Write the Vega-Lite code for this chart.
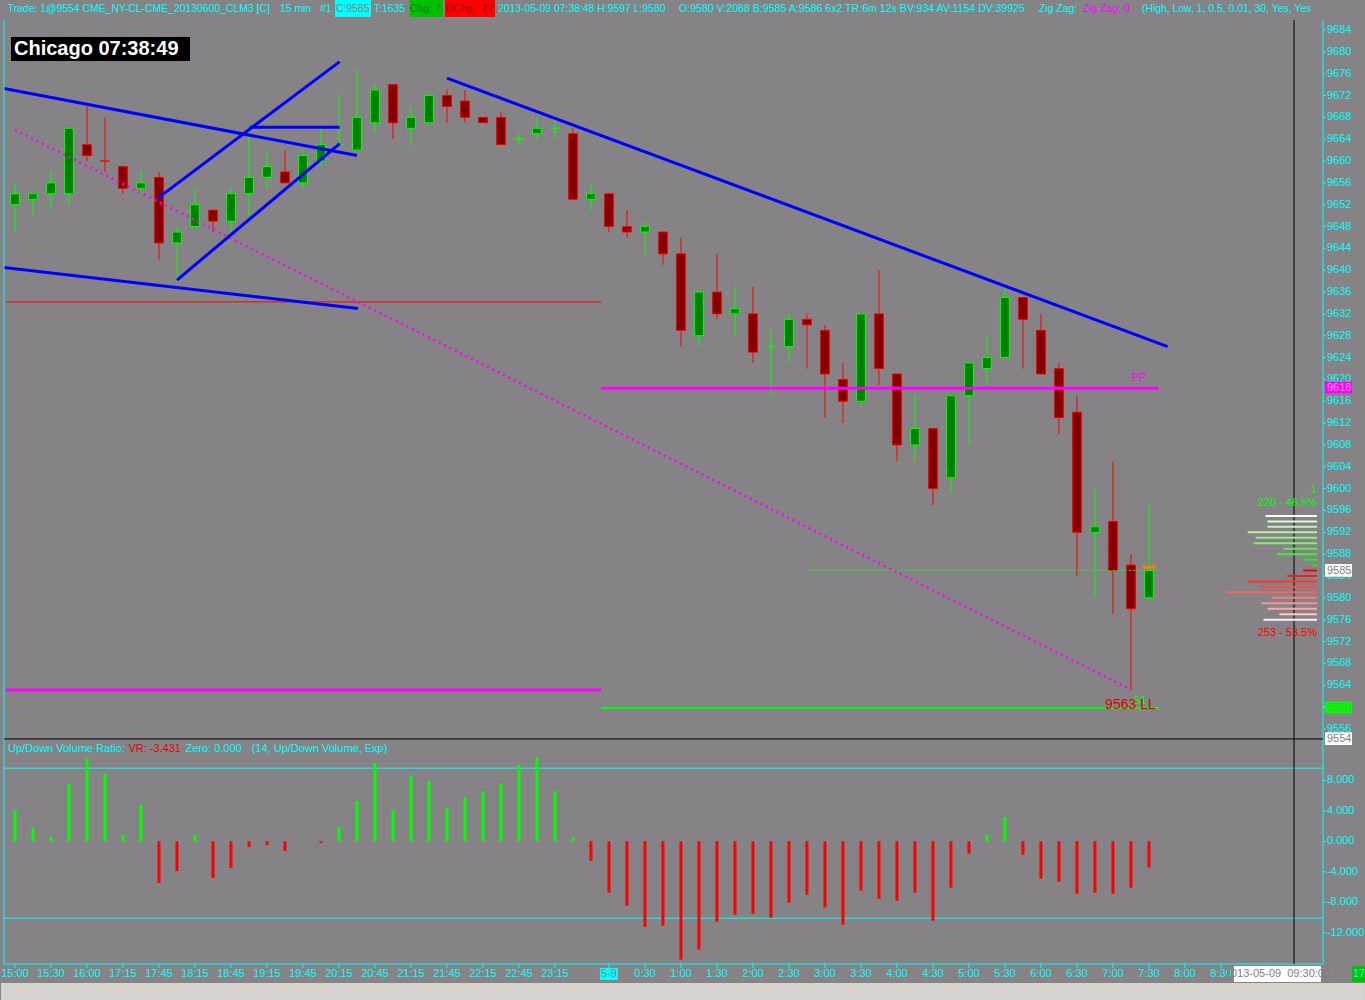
{
  "$schema": "https://vega.github.io/schema/vega-lite/v6.json",
  "background": "#858385",
  "padding": 0,
  "config": {
    "view": {"stroke": null},
    "scale": {"continuousPadding": 0},
    "font": "Liberation Sans",
    "text": {"font": "Liberation Sans", "fontSize": 11, "baseline": "middle"},
    "axis": {
      "labelFont": "Liberation Sans",
      "labelFontSize": 11,
      "labelColor": "#00ffff",
      "domainColor": "#00ffff",
      "tickColor": "#00ffff",
      "grid": false
    }
  },
  "datasets": {
    "candles": [
      {"i": 0, "o": 9652, "h": 9656, "l": 9647, "c": 9654, "dir": "up"},
      {"i": 1, "o": 9653, "h": 9654, "l": 9650, "c": 9654, "dir": "up"},
      {"i": 2, "o": 9654, "h": 9658, "l": 9651, "c": 9656, "dir": "up"},
      {"i": 3, "o": 9654, "h": 9666, "l": 9652, "c": 9666, "dir": "up"},
      {"i": 4, "o": 9663, "h": 9670, "l": 9660, "c": 9661, "dir": "down"},
      {"i": 5, "o": 9660, "h": 9668, "l": 9658, "c": 9660, "dir": "down"},
      {"i": 6, "o": 9659, "h": 9659, "l": 9654, "c": 9655, "dir": "down"},
      {"i": 7, "o": 9655, "h": 9658, "l": 9654, "c": 9656, "dir": "up"},
      {"i": 8, "o": 9657, "h": 9658, "l": 9642, "c": 9645, "dir": "down"},
      {"i": 9, "o": 9645, "h": 9648, "l": 9638, "c": 9647, "dir": "up"},
      {"i": 10, "o": 9648, "h": 9655, "l": 9648, "c": 9652, "dir": "up"},
      {"i": 11, "o": 9651, "h": 9651, "l": 9647, "c": 9649, "dir": "down"},
      {"i": 12, "o": 9649, "h": 9655, "l": 9647, "c": 9654, "dir": "up"},
      {"i": 13, "o": 9654, "h": 9665, "l": 9650, "c": 9657, "dir": "up"},
      {"i": 14, "o": 9657, "h": 9662, "l": 9655, "c": 9659, "dir": "up"},
      {"i": 15, "o": 9658, "h": 9662, "l": 9656, "c": 9656, "dir": "down"},
      {"i": 16, "o": 9656, "h": 9662, "l": 9655, "c": 9661, "dir": "up"},
      {"i": 17, "o": 9660, "h": 9666, "l": 9659, "c": 9663, "dir": "up"},
      {"i": 18, "o": 9663, "h": 9672, "l": 9663, "c": 9663, "dir": "up"},
      {"i": 19, "o": 9662, "h": 9677, "l": 9662, "c": 9668, "dir": "up"},
      {"i": 20, "o": 9667, "h": 9674, "l": 9665, "c": 9673, "dir": "up"},
      {"i": 21, "o": 9674, "h": 9674, "l": 9664, "c": 9667, "dir": "down"},
      {"i": 22, "o": 9666, "h": 9670, "l": 9663, "c": 9668, "dir": "up"},
      {"i": 23, "o": 9667, "h": 9672, "l": 9667, "c": 9672, "dir": "up"},
      {"i": 24, "o": 9672, "h": 9673, "l": 9667, "c": 9670, "dir": "down"},
      {"i": 25, "o": 9671, "h": 9673, "l": 9667, "c": 9668, "dir": "down"},
      {"i": 26, "o": 9668, "h": 9668, "l": 9667, "c": 9667, "dir": "down"},
      {"i": 27, "o": 9668, "h": 9669, "l": 9663, "c": 9663, "dir": "down"},
      {"i": 28, "o": 9664, "h": 9665, "l": 9663, "c": 9664, "dir": "up"},
      {"i": 29, "o": 9665, "h": 9668, "l": 9664, "c": 9666, "dir": "up"},
      {"i": 30, "o": 9666, "h": 9668, "l": 9664, "c": 9666, "dir": "up"},
      {"i": 31, "o": 9665, "h": 9666, "l": 9653, "c": 9653, "dir": "down"},
      {"i": 32, "o": 9653, "h": 9656, "l": 9651, "c": 9654, "dir": "up"},
      {"i": 33, "o": 9654, "h": 9654, "l": 9647, "c": 9648, "dir": "down"},
      {"i": 34, "o": 9648, "h": 9651, "l": 9646, "c": 9647, "dir": "down"},
      {"i": 35, "o": 9647, "h": 9649, "l": 9643, "c": 9648, "dir": "up"},
      {"i": 36, "o": 9647, "h": 9647, "l": 9641, "c": 9643, "dir": "down"},
      {"i": 37, "o": 9643, "h": 9646, "l": 9626, "c": 9629, "dir": "down"},
      {"i": 38, "o": 9628, "h": 9636, "l": 9626, "c": 9636, "dir": "up"},
      {"i": 39, "o": 9636, "h": 9643, "l": 9631, "c": 9632, "dir": "down"},
      {"i": 40, "o": 9632, "h": 9637, "l": 9628, "c": 9633, "dir": "up"},
      {"i": 41, "o": 9632, "h": 9637, "l": 9623, "c": 9625, "dir": "down"},
      {"i": 42, "o": 9626, "h": 9629, "l": 9617, "c": 9626, "dir": "up"},
      {"i": 43, "o": 9626, "h": 9632, "l": 9623, "c": 9631, "dir": "up"},
      {"i": 44, "o": 9631, "h": 9632, "l": 9622, "c": 9630, "dir": "down"},
      {"i": 45, "o": 9629, "h": 9630, "l": 9613, "c": 9621, "dir": "down"},
      {"i": 46, "o": 9620, "h": 9623, "l": 9612, "c": 9616, "dir": "down"},
      {"i": 47, "o": 9616, "h": 9632, "l": 9615, "c": 9632, "dir": "up"},
      {"i": 48, "o": 9632, "h": 9640, "l": 9619, "c": 9622, "dir": "down"},
      {"i": 49, "o": 9621, "h": 9621, "l": 9605, "c": 9608, "dir": "down"},
      {"i": 50, "o": 9608, "h": 9617, "l": 9605, "c": 9611, "dir": "up"},
      {"i": 51, "o": 9611, "h": 9611, "l": 9597, "c": 9600, "dir": "down"},
      {"i": 52, "o": 9602, "h": 9617, "l": 9599, "c": 9617, "dir": "up"},
      {"i": 53, "o": 9617, "h": 9623, "l": 9608, "c": 9623, "dir": "up"},
      {"i": 54, "o": 9622, "h": 9628, "l": 9619, "c": 9624, "dir": "up"},
      {"i": 55, "o": 9624, "h": 9637, "l": 9624, "c": 9635, "dir": "up"},
      {"i": 56, "o": 9635, "h": 9635, "l": 9622, "c": 9631, "dir": "down"},
      {"i": 57, "o": 9629, "h": 9632, "l": 9621, "c": 9621, "dir": "down"},
      {"i": 58, "o": 9622, "h": 9623, "l": 9610, "c": 9613, "dir": "down"},
      {"i": 59, "o": 9614, "h": 9617, "l": 9584, "c": 9592, "dir": "down"},
      {"i": 60, "o": 9592, "h": 9600, "l": 9580, "c": 9593, "dir": "up"},
      {"i": 61, "o": 9594, "h": 9605, "l": 9577, "c": 9585, "dir": "down"},
      {"i": 62, "o": 9586, "h": 9588, "l": 9563, "c": 9578, "dir": "down"},
      {"i": 63, "o": 9580, "h": 9597, "l": 9580, "c": 9585, "dir": "up"}
    ],
    "vratio": [
      {"i": 0, "vr": 4.1}, {"i": 1, "vr": 1.75}, {"i": 2, "vr": 0.57}, {"i": 3, "vr": 7.57},
      {"i": 4, "vr": 10.8}, {"i": 5, "vr": 8.88}, {"i": 6, "vr": 0.83}, {"i": 7, "vr": 4.77},
      {"i": 8, "vr": -5.47}, {"i": 9, "vr": -3.9}, {"i": 10, "vr": 0.83}, {"i": 11, "vr": -4.82},
      {"i": 12, "vr": -3.5}, {"i": 13, "vr": -0.75}, {"i": 14, "vr": -0.49}, {"i": 15, "vr": -1.27},
      {"i": 16, "vr": 0.0}, {"i": 17, "vr": -0.22}, {"i": 18, "vr": 1.88}, {"i": 19, "vr": 5.29},
      {"i": 20, "vr": 10.28}, {"i": 21, "vr": 4.11}, {"i": 22, "vr": 8.62}, {"i": 23, "vr": 7.92},
      {"i": 24, "vr": 4.37}, {"i": 25, "vr": 5.73}, {"i": 26, "vr": 6.52}, {"i": 27, "vr": 7.57},
      {"i": 28, "vr": 10.02}, {"i": 29, "vr": 10.98}, {"i": 30, "vr": 6.6}, {"i": 31, "vr": 0.48},
      {"i": 32, "vr": -2.54}, {"i": 33, "vr": -6.74}, {"i": 34, "vr": -8.45}, {"i": 35, "vr": -11.21},
      {"i": 36, "vr": -11.08}, {"i": 37, "vr": -15.54}, {"i": 38, "vr": -14.23}, {"i": 39, "vr": -10.55},
      {"i": 40, "vr": -9.63}, {"i": 41, "vr": -9.5}, {"i": 42, "vr": -10.03}, {"i": 43, "vr": -8.06},
      {"i": 44, "vr": -7.01}, {"i": 45, "vr": -8.71}, {"i": 46, "vr": -10.94}, {"i": 47, "vr": -6.48},
      {"i": 48, "vr": -7.53}, {"i": 49, "vr": -7.79}, {"i": 50, "vr": -6.74}, {"i": 51, "vr": -10.42},
      {"i": 52, "vr": -6.09}, {"i": 53, "vr": -1.62}, {"i": 54, "vr": 0.83}, {"i": 55, "vr": 3.19},
      {"i": 56, "vr": -1.75}, {"i": 57, "vr": -4.91}, {"i": 58, "vr": -5.3}, {"i": 59, "vr": -6.88},
      {"i": 60, "vr": -6.74}, {"i": 61, "vr": -6.88}, {"i": 62, "vr": -6.09}, {"i": 63, "vr": -3.431}
    ],
    "profile": [
      {"level": 9595, "vol": 26}, {"level": 9594, "vol": 25}, {"level": 9593, "vol": 25},
      {"level": 9592, "vol": 35}, {"level": 9591, "vol": 31}, {"level": 9590, "vol": 32},
      {"level": 9589, "vol": 17}, {"level": 9588, "vol": 20}, {"level": 9587, "vol": 7},
      {"level": 9586, "vol": 2}, {"level": 9585, "vol": 7}, {"level": 9584, "vol": 15},
      {"level": 9583, "vol": 35}, {"level": 9582, "vol": 28}, {"level": 9581, "vol": 46},
      {"level": 9580, "vol": 23}, {"level": 9579, "vol": 28}, {"level": 9578, "vol": 25},
      {"level": 9577, "vol": 19}, {"level": 9576, "vol": 27}
    ],
    "trend": [
      {"i1": -0.61, "p1": 9673.3, "i2": 19.0, "p2": 9661.0},
      {"i1": -0.61, "p1": 9640.5, "i2": 19.06, "p2": 9633.0},
      {"i1": 7.94, "p1": 9653.2, "i2": 18.04, "p2": 9678.2},
      {"i1": 9.0, "p1": 9638.2, "i2": 18.04, "p2": 9663.2},
      {"i1": 13.04, "p1": 9666.2, "i2": 18.04, "p2": 9666.2},
      {"i1": 24.0, "p1": 9675.2, "i2": 64.04, "p2": 9626.0}
    ],
    "zigzag": [
      {"i1": 0, "p1": 9665.7, "i2": 62, "p2": 9563.2}
    ],
    "pticks": [
      {"v": 9556}, {"v": 9560}, {"v": 9564}, {"v": 9568}, {"v": 9572}, {"v": 9576}, {"v": 9580},
      {"v": 9584}, {"v": 9588}, {"v": 9592}, {"v": 9596}, {"v": 9600}, {"v": 9604}, {"v": 9608},
      {"v": 9612}, {"v": 9616}, {"v": 9620}, {"v": 9624}, {"v": 9628}, {"v": 9632}, {"v": 9636},
      {"v": 9640}, {"v": 9644}, {"v": 9648}, {"v": 9652}, {"v": 9656}, {"v": 9660}, {"v": 9664},
      {"v": 9668}, {"v": 9672}, {"v": 9676}, {"v": 9680}, {"v": 9684}
    ],
    "vticks": [
      {"v": 8, "lab": "8.000"}, {"v": 4, "lab": "4.000"}, {"v": 0, "lab": "0.000"},
      {"v": -4, "lab": "-4.000"}, {"v": -8, "lab": "-8.000"}, {"v": -12, "lab": "-12.000"}
    ],
    "xticks": [
      {"i": 0, "lab": "15:00"}, {"i": 2, "lab": "15:30"}, {"i": 4, "lab": "16:00"}, {"i": 6, "lab": "17:15"},
      {"i": 8, "lab": "17:45"}, {"i": 10, "lab": "18:15"}, {"i": 12, "lab": "18:45"}, {"i": 14, "lab": "19:15"},
      {"i": 16, "lab": "19:45"}, {"i": 18, "lab": "20:15"}, {"i": 20, "lab": "20:45"}, {"i": 22, "lab": "21:15"},
      {"i": 24, "lab": "21:45"}, {"i": 26, "lab": "22:15"}, {"i": 28, "lab": "22:45"}, {"i": 30, "lab": "23:15"},
      {"i": 33, "lab": "5-9"}, {"i": 35, "lab": "0:30"}, {"i": 37, "lab": "1:00"}, {"i": 39, "lab": "1:30"},
      {"i": 41, "lab": "2:00"}, {"i": 43, "lab": "2:30"}, {"i": 45, "lab": "3:00"}, {"i": 47, "lab": "3:30"},
      {"i": 49, "lab": "4:00"}, {"i": 51, "lab": "4:30"}, {"i": 53, "lab": "5:00"}, {"i": 55, "lab": "5:30"},
      {"i": 57, "lab": "6:00"}, {"i": 59, "lab": "6:30"}, {"i": 61, "lab": "7:00"}, {"i": 63, "lab": "7:30"},
      {"i": 65, "lab": "8:00"}, {"i": 67, "lab": "8:30"}
    ],
    "one": [{}]
  },
  "spacing": 0,
  "bounds": "flush",
  "vconcat": [
    {
      "width": 1319,
      "height": 720,
      "resolve": {"scale": {"x": "independent"}},
      "layer": [
        {
          "layer": [
            {
              "data": {"name": "candles"},
              "mark": {"type": "rule", "strokeWidth": 1},
              "encoding": {
                "x": {"field": "i", "type": "quantitative", "scale": {"domain": [-0.61, 72.67], "nice": false, "zero": false, "padding": 0}, "axis": null},
                "y": {
                  "field": "l", "type": "quantitative",
                  "scale": {"domain": [9553.96, 9685.83], "nice": false, "zero": false, "padding": 0},
                  "axis": {"orient": "right", "title": null, "labels": false, "tickSize": 3, "values": [9556, 9560, 9564, 9568, 9572, 9576, 9580, 9584, 9588, 9592, 9596, 9600, 9604, 9608, 9612, 9616, 9620, 9624, 9628, 9632, 9636, 9640, 9644, 9648, 9652, 9656, 9660, 9664, 9668, 9672, 9676, 9680, 9684]}
                },
                "y2": {"field": "h"},
                "stroke": {"field": "dir", "type": "nominal", "scale": {"domain": ["up", "down"], "range": ["#00ff00", "#ff0000"]}, "legend": null}
              }
            },
            {
              "data": {"name": "candles"},
              "mark": {"type": "bar", "size": 9, "strokeWidth": 1},
              "encoding": {
                "x": {"field": "i", "type": "quantitative", "axis": null},
                "y": {"field": "o", "type": "quantitative", "axis": null},
                "y2": {"field": "c"},
                "fill": {"field": "dir", "type": "nominal", "scale": {"domain": ["up", "down"], "range": ["#008000", "#800000"]}, "legend": null},
                "stroke": {"field": "dir", "type": "nominal", "legend": null}
              }
            },
            {
              "data": {"name": "one"},
              "mark": {"type": "rule", "color": "#ff0000", "strokeWidth": 1},
              "encoding": {"x": {"datum": -0.5, "axis": null}, "x2": {"datum": 32.56}, "y": {"datum": 9634.2, "axis": null}}
            },
            {
              "data": {"name": "one"},
              "mark": {"type": "rule", "color": "#ff00ff", "strokeWidth": 3},
              "encoding": {"x": {"datum": -0.5, "axis": null}, "x2": {"datum": 32.56}, "y": {"datum": 9563.1, "axis": null}}
            },
            {
              "data": {"name": "one"},
              "mark": {"type": "rule", "color": "#ff00ff", "strokeWidth": 3},
              "encoding": {"x": {"datum": 32.56, "axis": null}, "x2": {"datum": 63.54}, "y": {"datum": 9618.4, "axis": null}}
            },
            {
              "data": {"name": "one"},
              "mark": {"type": "rule", "color": "#00ff00", "strokeWidth": 2},
              "encoding": {"x": {"datum": 32.56, "axis": null}, "x2": {"datum": 63.54}, "y": {"datum": 9559.8, "axis": null}}
            },
            {
              "data": {"name": "one"},
              "mark": {"type": "rule", "color": "#00ff00", "strokeWidth": 1, "strokeDash": [2, 2]},
              "encoding": {"x": {"datum": 44.1, "axis": null}, "x2": {"datum": 63.6}, "y": {"datum": 9585.0, "axis": null}}
            },
            {
              "data": {"name": "zigzag"},
              "mark": {"type": "rule", "color": "#ff00ff", "strokeWidth": 2.5, "strokeDash": [2, 4]},
              "encoding": {
                "x": {"field": "i1", "type": "quantitative", "axis": null}, "x2": {"field": "i2"},
                "y": {"field": "p1", "type": "quantitative", "axis": null}, "y2": {"field": "p2"}
              }
            },
            {
              "data": {"name": "trend"},
              "mark": {"type": "rule", "color": "#0000ff", "strokeWidth": 3},
              "encoding": {
                "x": {"field": "i1", "type": "quantitative", "axis": null}, "x2": {"field": "i2"},
                "y": {"field": "p1", "type": "quantitative", "axis": null}, "y2": {"field": "p2"}
              }
            },
            {
              "data": {"name": "one"},
              "mark": {"type": "rule", "color": "#ff8000", "strokeWidth": 3},
              "encoding": {"x": {"datum": 62.67, "axis": null}, "x2": {"datum": 63.39}, "y": {"datum": 9585.6, "axis": null}}
            },
            {
              "data": {"name": "one"},
              "mark": {"type": "text", "color": "#ff00ff", "align": "center"},
              "encoding": {"x": {"datum": 62.44, "axis": null}, "y": {"datum": 9620.3, "axis": null}, "text": {"value": "PP"}}
            },
            {
              "data": {"name": "one"},
              "mark": {"type": "text", "color": "#00ff00", "align": "center"},
              "encoding": {"x": {"datum": 62.5, "axis": null}, "y": {"datum": 9561.1, "axis": null}, "text": {"value": "S1"}}
            },
            {
              "data": {"name": "one"},
              "mark": {"type": "text", "color": "#e00000", "align": "center", "fontSize": 14},
              "encoding": {"x": {"datum": 61.97, "axis": null}, "y": {"datum": 9560.4, "axis": null}, "text": {"value": "9563 LL"}}
            },
            {
              "data": {"name": "one"},
              "mark": {"type": "rule", "color": "#00ffff", "strokeWidth": 1},
              "encoding": {"x": {"datum": -0.61, "axis": null}}
            },
            {
              "data": {"name": "one"},
              "mark": {"type": "rule", "color": "#00ffff", "strokeWidth": 1},
              "encoding": {"x": {"datum": 72.67, "axis": null}}
            },
            {
              "data": {"name": "pticks"},
              "mark": {"type": "rule", "color": "#00ffff", "strokeWidth": 1},
              "encoding": {"x": {"datum": 72.67, "axis": null}, "x2": {"datum": 72.84}, "y": {"field": "v", "type": "quantitative", "axis": null}}
            },
            {
              "data": {"name": "pticks"},
              "mark": {"type": "text", "color": "#00ffff", "align": "left"},
              "encoding": {"x": {"datum": 72.89, "axis": null}, "y": {"field": "v", "type": "quantitative", "axis": null}, "text": {"field": "v", "type": "quantitative", "format": "d"}}
            },
            {
              "data": {"name": "one"},
              "mark": {"type": "rule", "color": "#000000", "strokeWidth": 1},
              "encoding": {"x": {"datum": 71.06, "axis": null}}
            },
            {
              "data": {"name": "one"},
              "mark": {"type": "rule", "color": "#000000", "strokeWidth": 1},
              "encoding": {"y": {"datum": 9554.15, "axis": null}}
            },
            {
              "data": {"name": "one"},
              "mark": {"type": "rect", "color": "#000000"},
              "encoding": {"x": {"datum": -0.22, "axis": null}, "x2": {"datum": 9.72}, "y": {"datum": 9682.72, "axis": null}, "y2": {"datum": 9678.32}}
            },
            {
              "data": {"name": "one"},
              "mark": {"type": "text", "color": "#ffffff", "align": "left", "fontSize": 20, "fontWeight": "bold", "font": "Liberation Sans"},
              "encoding": {"x": {"datum": -0.055, "axis": null}, "y": {"datum": 9680.52, "axis": null}, "text": {"value": "Chicago 07:38:49"}}
            },
            {
              "data": {"name": "one"},
              "mark": {"type": "rect", "color": "#ff00ff"},
              "encoding": {"x": {"datum": 72.78, "axis": null}, "x2": {"datum": 74.28}, "y": {"datum": 9619.58, "axis": null}, "y2": {"datum": 9617.46}}
            },
            {
              "data": {"name": "one"},
              "mark": {"type": "text", "color": "#ff99ff", "align": "left"},
              "encoding": {"x": {"datum": 72.89, "axis": null}, "y": {"datum": 9618.5, "axis": null}, "text": {"value": "9618"}}
            },
            {
              "data": {"name": "one"},
              "mark": {"type": "rect", "color": "#ffffff"},
              "encoding": {"x": {"datum": 72.78, "axis": null}, "x2": {"datum": 74.28}, "y": {"datum": 9586.2, "axis": null}, "y2": {"datum": 9583.87}}
            },
            {
              "data": {"name": "one"},
              "mark": {"type": "text", "color": "#808080", "align": "left"},
              "encoding": {"x": {"datum": 72.89, "axis": null}, "y": {"datum": 9585.0, "axis": null}, "text": {"value": "9585"}}
            },
            {
              "data": {"name": "one"},
              "mark": {"type": "rect", "color": "#00ff00"},
              "encoding": {"x": {"datum": 72.78, "axis": null}, "x2": {"datum": 74.28}, "y": {"datum": 9560.98, "axis": null}, "y2": {"datum": 9558.85}}
            },
            {
              "data": {"name": "one"},
              "mark": {"type": "text", "color": "#40c040", "align": "left"},
              "encoding": {"x": {"datum": 72.89, "axis": null}, "y": {"datum": 9559.9, "axis": null}, "text": {"value": "9560"}}
            },
            {
              "data": {"name": "one"},
              "mark": {"type": "rect", "color": "#ffffff"},
              "encoding": {"x": {"datum": 72.78, "axis": null}, "x2": {"datum": 74.28}, "y": {"datum": 9555.37, "axis": null}, "y2": {"datum": 9553.04}}
            },
            {
              "data": {"name": "one"},
              "mark": {"type": "text", "color": "#808080", "align": "left"},
              "encoding": {"x": {"datum": 72.89, "axis": null}, "y": {"datum": 9554.2, "axis": null}, "text": {"value": "9554"}}
            },
            {
              "data": {"name": "one"},
              "mark": {"type": "rect", "color": "#00ffff"},
              "encoding": {"x": {"datum": 17.78, "axis": null}, "x2": {"datum": 19.78}, "y": {"datum": 9689.49, "axis": null}, "y2": {"datum": 9686.38}}
            },
            {
              "data": {"name": "one"},
              "mark": {"type": "rect", "color": "#00c000"},
              "encoding": {"x": {"datum": 21.92, "axis": null}, "x2": {"datum": 23.78}, "y": {"datum": 9689.49, "axis": null}, "y2": {"datum": 9686.38}}
            },
            {
              "data": {"name": "one"},
              "mark": {"type": "rect", "color": "#ff0000"},
              "encoding": {"x": {"datum": 23.89, "axis": null}, "x2": {"datum": 26.67}, "y": {"datum": 9689.49, "axis": null}, "y2": {"datum": 9686.38}}
            },
            {
              "data": {"name": "one"},
              "mark": {"type": "text", "color": "#00ffff", "align": "left", "fontSize": 10.4},
              "encoding": {"x": {"datum": -0.406, "axis": null}, "y": {"datum": 9687.84, "axis": null}, "text": {"value": "Trade: 1@9554 CME_NY-CL-CME_20130600_CLM3 [C]"}}
            },
            {
              "data": {"name": "one"},
              "mark": {"type": "text", "color": "#00ffff", "align": "left", "fontSize": 10.4},
              "encoding": {"x": {"datum": 14.72, "axis": null}, "y": {"datum": 9687.84, "axis": null}, "text": {"value": "15 min"}}
            },
            {
              "data": {"name": "one"},
              "mark": {"type": "text", "color": "#00ffff", "align": "left", "fontSize": 10.4},
              "encoding": {"x": {"datum": 16.94, "axis": null}, "y": {"datum": 9687.84, "axis": null}, "text": {"value": "#1"}}
            },
            {
              "data": {"name": "one"},
              "mark": {"type": "text", "color": "#808080", "align": "left", "fontSize": 10.4},
              "encoding": {"x": {"datum": 17.83, "axis": null}, "y": {"datum": 9687.84, "axis": null}, "text": {"value": "C:9585"}}
            },
            {
              "data": {"name": "one"},
              "mark": {"type": "text", "color": "#00ffff", "align": "left", "fontSize": 10.4},
              "encoding": {"x": {"datum": 19.94, "axis": null}, "y": {"datum": 9687.84, "axis": null}, "text": {"value": "T:1635"}}
            },
            {
              "data": {"name": "one"},
              "mark": {"type": "text", "color": "#008000", "align": "left", "fontSize": 10.4},
              "encoding": {"x": {"datum": 21.94, "axis": null}, "y": {"datum": 9687.84, "axis": null}, "text": {"value": "Chg: 7"}}
            },
            {
              "data": {"name": "one"},
              "mark": {"type": "text", "color": "#a00000", "align": "left", "fontSize": 10.4},
              "encoding": {"x": {"datum": 23.94, "axis": null}, "y": {"datum": 9687.84, "axis": null}, "text": {"value": "DChg: -77"}}
            },
            {
              "data": {"name": "one"},
              "mark": {"type": "text", "color": "#00ffff", "align": "left", "fontSize": 10.4},
              "encoding": {"x": {"datum": 26.83, "axis": null}, "y": {"datum": 9687.84, "axis": null}, "text": {"value": "2013-05-09 07:38:48 H:9597 L:9580"}}
            },
            {
              "data": {"name": "one"},
              "mark": {"type": "text", "color": "#00ffff", "align": "left", "fontSize": 10.6},
              "encoding": {"x": {"datum": 36.89, "axis": null}, "y": {"datum": 9687.84, "axis": null}, "text": {"value": "O:9580 V:2088 B:9585 A:9586 6x2 TR:6m 12s BV:934 AV:1154 DV:39925"}}
            },
            {
              "data": {"name": "one"},
              "mark": {"type": "text", "color": "#00ffff", "align": "left", "fontSize": 10.4},
              "encoding": {"x": {"datum": 56.89, "axis": null}, "y": {"datum": 9687.84, "axis": null}, "text": {"value": "Zig Zag:"}}
            },
            {
              "data": {"name": "one"},
              "mark": {"type": "text", "color": "#ff00ff", "align": "left", "fontSize": 10.4},
              "encoding": {"x": {"datum": 59.33, "axis": null}, "y": {"datum": 9687.84, "axis": null}, "text": {"value": "Zig Zag: 0"}}
            },
            {
              "data": {"name": "one"},
              "mark": {"type": "text", "color": "#00ffff", "align": "left", "fontSize": 10.4},
              "encoding": {"x": {"datum": 62.61, "axis": null}, "y": {"datum": 9687.84, "axis": null}, "text": {"value": "(High, Low, 1, 0.5, 0.01, 30, Yes, Yes"}}
            }
          ]
        },
        {
          "layer": [
            {
              "data": {"name": "profile"},
              "mark": {"type": "bar", "size": 2},
              "encoding": {
                "x": {"field": "vol", "type": "quantitative", "scale": {"domain": [-3.03, 663.2], "reverse": true, "nice": false, "zero": false, "padding": 0}, "axis": null},
                "x2": {"datum": 0},
                "y": {"field": "level", "type": "quantitative", "axis": null},
                "color": {
                  "field": "level", "type": "ordinal", "legend": null,
                  "scale": {
                    "domain": [9595, 9594, 9593, 9592, 9591, 9590, 9589, 9588, 9587, 9586, 9585, 9584, 9583, 9582, 9581, 9580, 9579, 9578, 9577, 9576],
                    "range": ["#f0fff0", "#e0f8d8", "#c8f0c0", "#b0f0a0", "#98ee88", "#88ec78", "#60e850", "#50e840", "#20f020", "#00ff00", "#ff0000", "#ff1818", "#ff3030", "#ff4848", "#ff6060", "#ff7878", "#ff9090", "#ffa8a8", "#ffc8c8", "#fff0f0"]
                  }
                }
              }
            },
            {
              "data": {"name": "one"},
              "mark": {"type": "text", "color": "#00ff00", "align": "right"},
              "encoding": {"x": {"datum": 0, "axis": null}, "y": {"datum": 9599.8, "axis": null}, "text": {"value": "1"}}
            },
            {
              "data": {"name": "one"},
              "mark": {"type": "text", "color": "#00ff00", "align": "right"},
              "encoding": {"x": {"datum": 0, "axis": null}, "y": {"datum": 9597.4, "axis": null}, "text": {"value": "220 - 46.5%"}}
            },
            {
              "data": {"name": "one"},
              "mark": {"type": "text", "color": "#ff0000", "align": "right"},
              "encoding": {"x": {"datum": 0, "axis": null}, "y": {"datum": 9573.6, "axis": null}, "text": {"value": "253 - 53.5%"}}
            }
          ]
        }
      ]
    },
    {
      "width": 1319,
      "height": 224,
      "layer": [
        {
          "data": {"name": "one"},
          "mark": {"type": "rule", "color": "#00ffff", "strokeWidth": 1},
          "encoding": {"y": {"datum": 9.6, "axis": null}}
        },
        {
          "data": {"name": "one"},
          "mark": {"type": "rule", "color": "#00ffff", "strokeWidth": 1},
          "encoding": {"y": {"datum": -10.1, "axis": null}}
        },
        {
          "data": {"name": "vratio"},
          "mark": {"type": "bar", "size": 3},
          "encoding": {
            "x": {
              "field": "i", "type": "quantitative",
              "scale": {"domain": [-0.61, 72.67], "nice": false, "zero": false, "padding": 0},
              "axis": {"orient": "bottom", "title": null, "labels": false, "tickSize": 4, "values": [0, 2, 4, 6, 8, 10, 12, 14, 16, 18, 20, 22, 24, 26, 28, 30, 33, 35, 37, 39, 41, 43, 45, 47, 49, 51, 53, 55, 57, 59, 61, 63, 65, 67]}
            },
            "y": {
              "field": "vr", "type": "quantitative",
              "scale": {"domain": [-16.11, 13.3], "nice": false, "zero": false, "padding": 0},
              "axis": {"orient": "right", "title": null, "labels": false, "tickSize": 3, "values": [-12, -8, -4, 0, 4, 8]}
            },
            "y2": {"datum": 0},
            "color": {"condition": {"test": "datum.vr >= 0", "value": "#00ff00"}, "value": "#ff0000"}
          }
        },
        {
          "data": {"name": "one"},
          "mark": {"type": "rule", "color": "#00ffff", "strokeWidth": 1},
          "encoding": {"x": {"datum": -0.61, "axis": null}}
        },
        {
          "data": {"name": "one"},
          "mark": {"type": "rule", "color": "#00ffff", "strokeWidth": 1},
          "encoding": {"x": {"datum": 72.67, "axis": null}}
        },
        {
          "data": {"name": "one"},
          "mark": {"type": "rule", "color": "#00ffff", "strokeWidth": 1},
          "encoding": {"x": {"datum": -0.61, "axis": null}, "x2": {"datum": 72.67}, "y": {"datum": -16.11, "axis": null}}
        },
        {
          "data": {"name": "vticks"},
          "mark": {"type": "rule", "color": "#00ffff", "strokeWidth": 1},
          "encoding": {"x": {"datum": 72.67, "axis": null}, "x2": {"datum": 72.84}, "y": {"field": "v", "type": "quantitative", "axis": null}}
        },
        {
          "data": {"name": "vticks"},
          "mark": {"type": "text", "color": "#00ffff", "align": "left"},
          "encoding": {"x": {"datum": 72.89, "axis": null}, "y": {"field": "v", "type": "quantitative", "axis": null}, "text": {"field": "lab", "type": "nominal"}}
        },
        {
          "data": {"name": "one"},
          "mark": {"type": "rule", "color": "#000000", "strokeWidth": 1},
          "encoding": {"x": {"datum": 71.06, "axis": null}}
        },
        {
          "data": {"name": "one"},
          "mark": {"type": "text", "color": "#00ffff", "align": "left"},
          "encoding": {"x": {"datum": -0.39, "axis": null}, "y": {"datum": 12.08, "axis": null}, "text": {"value": "Up/Down Volume Ratio:"}}
        },
        {
          "data": {"name": "one"},
          "mark": {"type": "text", "color": "#e80000", "align": "left"},
          "encoding": {"x": {"datum": 6.3, "axis": null}, "y": {"datum": 12.08, "axis": null}, "text": {"value": "VR: -3.431"}}
        },
        {
          "data": {"name": "one"},
          "mark": {"type": "text", "color": "#00ffff", "align": "left"},
          "encoding": {"x": {"datum": 9.47, "axis": null}, "y": {"datum": 12.08, "axis": null}, "text": {"value": "Zero: 0.000"}}
        },
        {
          "data": {"name": "one"},
          "mark": {"type": "text", "color": "#00ffff", "align": "left"},
          "encoding": {"x": {"datum": 13.15, "axis": null}, "y": {"datum": 12.08, "axis": null}, "text": {"value": "(14, Up/Down Volume, Exp)"}}
        },
        {
          "data": {"name": "xticks"},
          "mark": {"type": "rule", "color": "#00ffff", "strokeWidth": 1},
          "encoding": {"x": {"field": "i", "type": "quantitative", "axis": null}, "y": {"datum": -16.11, "axis": null}, "y2": {"datum": -16.64}}
        },
        {
          "data": {"name": "one"},
          "mark": {"type": "rect", "color": "#00ffff"},
          "encoding": {"x": {"datum": 32.5, "axis": null}, "x2": {"datum": 33.5}, "y": {"datum": -16.63, "axis": null}, "y2": {"datum": -18.21}}
        },
        {
          "data": {"name": "xticks"},
          "mark": {"type": "text", "align": "center"},
          "encoding": {
            "x": {"field": "i", "type": "quantitative", "axis": null},
            "y": {"datum": -17.45, "axis": null},
            "text": {"field": "lab", "type": "nominal"},
            "color": {"condition": {"test": "datum.i === 33", "value": "#858385"}, "value": "#00ffff"}
          }
        },
        {
          "data": {"name": "one"},
          "mark": {"type": "rect", "color": "#ffffff"},
          "encoding": {"x": {"datum": 67.72, "axis": null}, "x2": {"datum": 72.56}, "y": {"datum": -16.37, "axis": null}, "y2": {"datum": -18.47}}
        },
        {
          "data": {"name": "one"},
          "mark": {"type": "text", "color": "#808080", "align": "center"},
          "encoding": {"x": {"datum": 70.14, "axis": null}, "y": {"datum": -17.4, "axis": null}, "text": {"value": "2013-05-09\u00a0\u00a009:30:00"}}
        },
        {
          "data": {"name": "one"},
          "mark": {"type": "rect", "color": "#00c000"},
          "encoding": {"x": {"datum": 74.28, "axis": null}, "x2": {"datum": 75.0}, "y": {"datum": -16.37, "axis": null}, "y2": {"datum": -18.47}}
        },
        {
          "data": {"name": "one"},
          "mark": {"type": "text", "color": "#00ffff", "align": "left"},
          "encoding": {"x": {"datum": 74.33, "axis": null}, "y": {"datum": -17.4, "axis": null}, "text": {"value": "17"}}
        },
        {
          "data": {"name": "one"},
          "mark": {"type": "rect", "color": "#d6d3ce"},
          "encoding": {"x": {"datum": -0.7767, "axis": null}, "x2": {"datum": 75.0}, "y": {"datum": -18.6, "axis": null}, "y2": {"datum": -20.84}}
        }
      ]
    }
  ]
}
